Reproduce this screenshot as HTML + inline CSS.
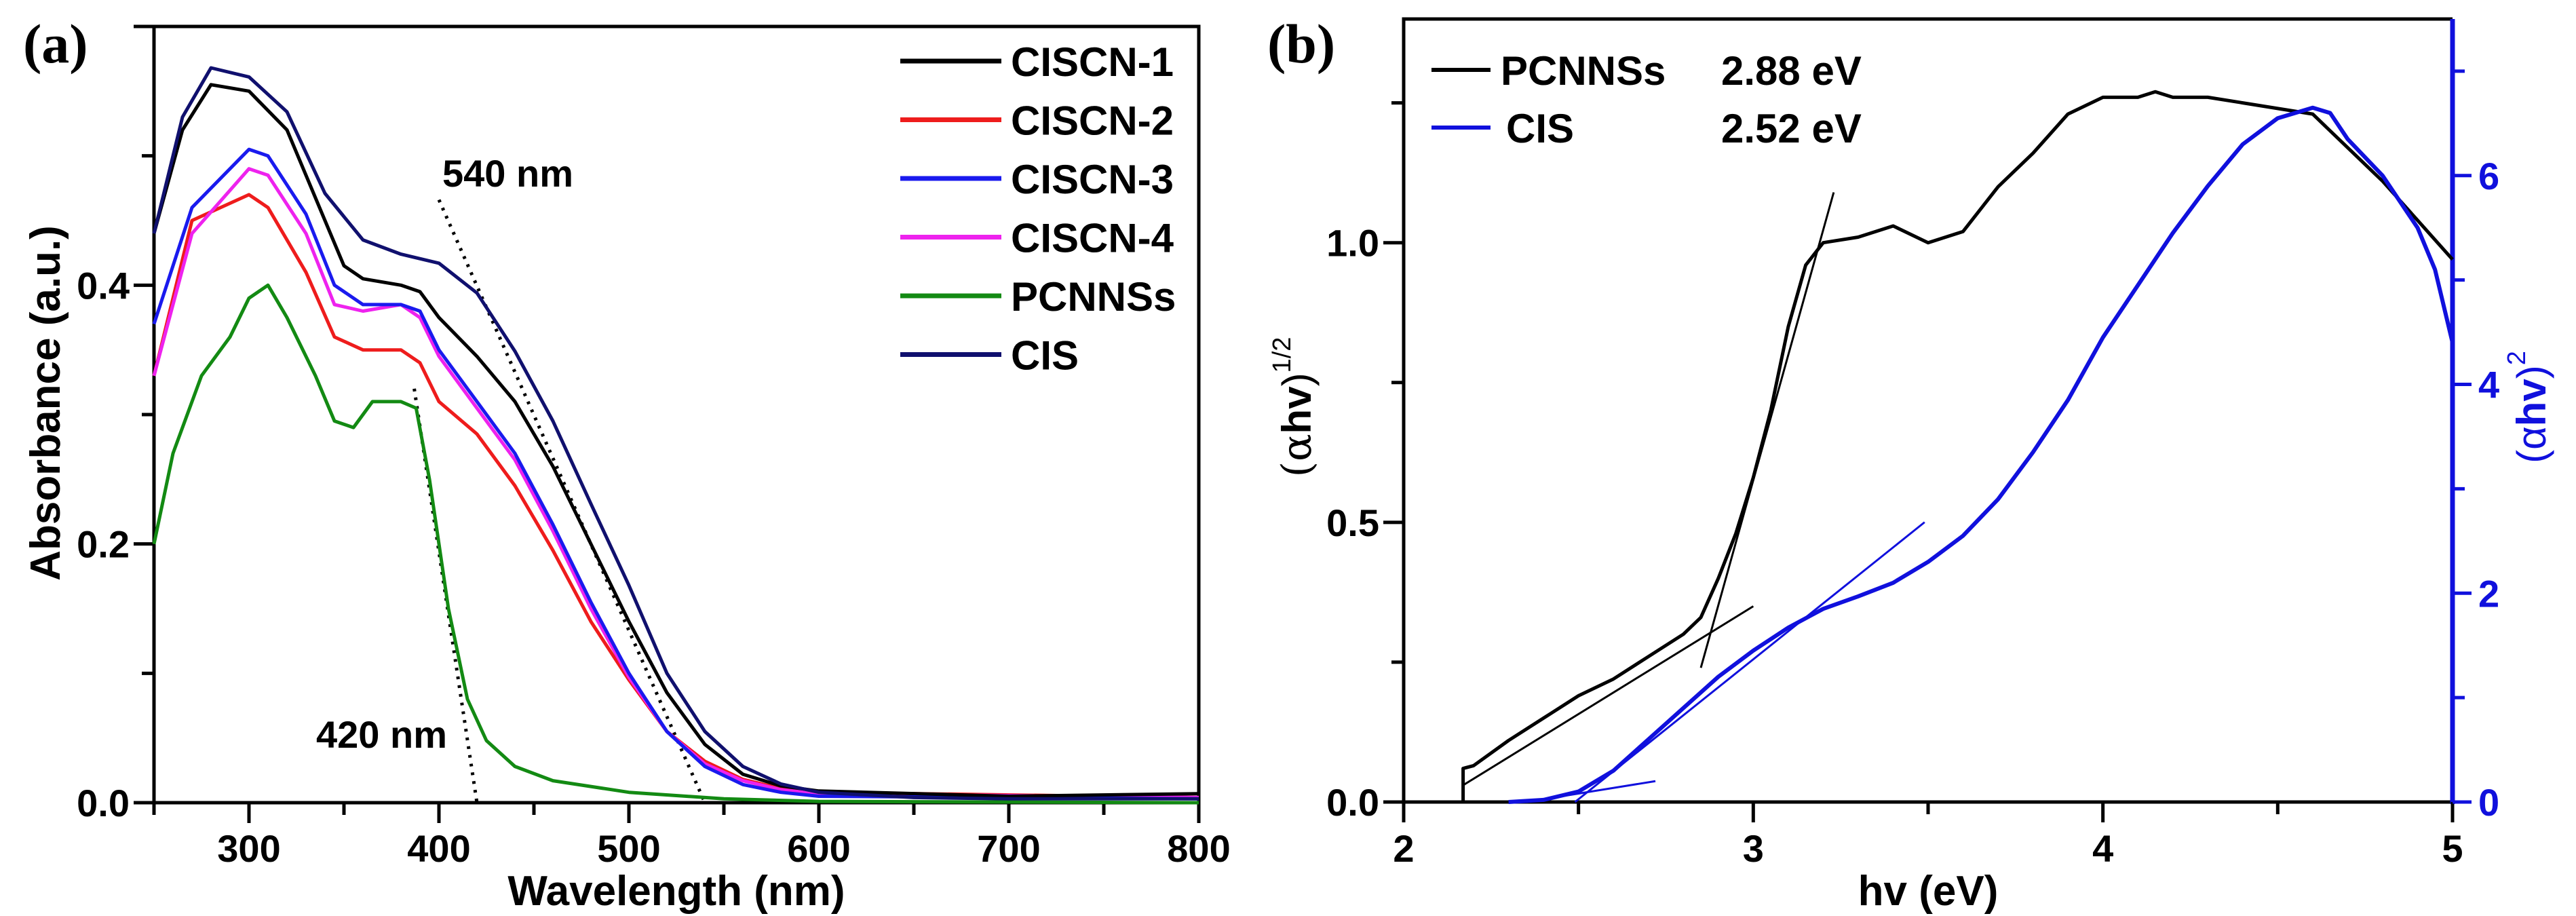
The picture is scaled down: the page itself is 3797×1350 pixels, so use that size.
<!DOCTYPE html>
<html><head><meta charset="utf-8"><style>
html,body{margin:0;padding:0;background:#fff;}
svg{display:block;font-family:"Liberation Sans",sans-serif;font-weight:bold;}
</style></head><body>
<svg id="fig" width="3797" height="1350" viewBox="0 0 3797 1350">
<g id="pa"></g>
<g id="pb"></g>
</svg>
<script>
// Panel (a) data
const aWl_CIS=[250,265,280,300,320,340,360,380,400,420,440,460,480,500,520,540,560,580,600,650,700,750,800];
const aCIS=[0.44,0.53,0.568,0.561,0.534,0.471,0.435,0.424,0.417,0.394,0.349,0.295,0.231,0.168,0.1,0.055,0.028,0.0145,0.008,0.004,0.003,0.003,0.003];
const aWl_1=[250,265,280,300,320,340,350,360,380,390,400,420,440,460,480,500,520,540,560,580,600,700,800];
const aC1=[0.44,0.52,0.555,0.55,0.52,0.45,0.415,0.405,0.4,0.395,0.375,0.345,0.31,0.26,0.2,0.14,0.085,0.045,0.022,0.013,0.009,0.005,0.007];
const aWl_s=[250,270,300,310,330,345,360,380,390,400,420,440,460,480,500,520,540,560,580,600,800];
const aC3=[0.37,0.46,0.505,0.5,0.455,0.4,0.385,0.385,0.38,0.35,0.31,0.27,0.215,0.155,0.1,0.055,0.028,0.014,0.008,0.005,0.003];
const aC4=[0.33,0.44,0.49,0.485,0.44,0.385,0.38,0.385,0.375,0.345,0.305,0.265,0.21,0.15,0.097,0.055,0.03,0.017,0.01,0.007,0.004];
const aC2=[0.33,0.45,0.47,0.46,0.41,0.36,0.35,0.35,0.34,0.31,0.285,0.245,0.195,0.14,0.095,0.055,0.032,0.018,0.011,0.008,0.004];
const aWl_P=[250,260,275,290,300,310,320,335,345,355,365,380,388,395,405,415,425,440,460,500,550,600,800];
const aPC=[0.2,0.27,0.33,0.36,0.39,0.4,0.375,0.33,0.295,0.29,0.31,0.31,0.305,0.25,0.15,0.08,0.048,0.028,0.017,0.008,0.003,0.001,0];
const aXTicks=[300,400,500,600,700,800];
const aYTicks=[0.0,0.2,0.4];
// Panel (b) data
const bEv_P=[2.17,2.17,2.2,2.3,2.4,2.5,2.6,2.7,2.8,2.85,2.9,2.95,3.0,3.05,3.1,3.15,3.2,3.3,3.4,3.5,3.6,3.7,3.8,3.9,4.0,4.1,4.15,4.2,4.3,4.4,4.5,4.6,4.7,4.8,4.9,5.0];
const bPC=[0,0.06,0.065,0.11,0.15,0.19,0.22,0.26,0.3,0.33,0.4,0.48,0.58,0.7,0.85,0.96,1.0,1.01,1.03,1.0,1.02,1.1,1.16,1.23,1.26,1.26,1.27,1.26,1.26,1.25,1.24,1.23,1.17,1.11,1.04,0.97];
const bEv_C=[2.3,2.4,2.5,2.6,2.7,2.8,2.9,3.0,3.1,3.2,3.3,3.4,3.5,3.6,3.7,3.8,3.9,4.0,4.1,4.2,4.3,4.4,4.5,4.6,4.65,4.7,4.8,4.9,4.95,5.0];
const bCIS=[0,0.02,0.1,0.3,0.6,0.9,1.2,1.45,1.67,1.85,1.97,2.1,2.3,2.55,2.9,3.35,3.85,4.45,4.95,5.45,5.9,6.3,6.55,6.65,6.6,6.35,6.0,5.5,5.1,4.4];
const bXTicks=[2,3,4,5];
const bYTicks=[0.0,0.5,1.0];
const bY2Ticks=[0,2,4,6];

const NS="http://www.w3.org/2000/svg";
function mk(parent,tag,attrs,text){const e=document.createElementNS(NS,tag);for(const k in attrs)e.setAttribute(k,attrs[k]);if(text!==undefined)e.textContent=text;parent.appendChild(e);return e;}
function path(xs,ys,fx,fy){return xs.map((x,i)=>(i?'L':'M')+fx(x).toFixed(1)+' '+fy(ys[i]).toFixed(1)).join(' ');}

// ---- Panel a
const pa=document.getElementById('pa');
const aL=227,aR=1767,aT=39,aB=1183;
const ax=v=>aL+(v-250)/550*(aR-aL);
const ay=v=>aB-v/0.6*(aB-aT);
let r=mk(pa,'rect',{x:aL,y:aT,width:aR-aL,height:aB-aT,fill:'none',stroke:'#000','stroke-width':5});

for(let v=250;v<=800;v+=50){const major=v%100===0;let t=mk(pa,'line',{x1:ax(v),x2:ax(v),y1:aB,y2:aB+(major?30:18),stroke:'#000','stroke-width':5});}
for(let v=0;v<=0.6001;v+=0.1){const major=Math.round(v*10)%2===0;let t=mk(pa,'line',{x1:aL,x2:aL-(major?30:18),y1:ay(v),y2:ay(v),stroke:'#000','stroke-width':5});}
aXTicks.forEach(v=>{let t=mk(pa,'text',{x:ax(v),y:1270,'font-size':56,'text-anchor':'middle'},String(v));});
aYTicks.forEach(v=>{let t=mk(pa,'text',{x:aL-36,y:ay(v)+20,'font-size':56,'text-anchor':'end'},v.toFixed(1));});
let tt=mk(pa,'text',{x:(aL+aR)/2,y:1334,'font-size':62,'text-anchor':'middle'},'Wavelength (nm)');
tt=mk(pa,'text',{x:0,y:0,'font-size':62,'text-anchor':'middle',transform:'translate(88,594) rotate(-90)'},'Absorbance (a.u.)');
tt=mk(pa,'text',{x:34,y:92,'font-size':82,'font-family':'Liberation Serif, serif'},'(a)');
// dotted tangents
let d=mk(pa,'line',{x1:ax(400),y1:ay(0.466),x2:ax(540),y2:ay(0),stroke:'#000','stroke-width':5,'stroke-dasharray':'4 9'});
d=mk(pa,'line',{x1:ax(387),y1:ay(0.32),x2:ax(420),y2:ay(0),stroke:'#000','stroke-width':5,'stroke-dasharray':'4 9'});
const aSeries=[
 ['series-pcnnss',aWl_P,aPC,'#138a13'],
 ['series-ciscn-2',aWl_s,aC2,'#ee1c1c'],
 ['series-ciscn-4',aWl_s,aC4,'#ee22ee'],
 ['series-ciscn-3',aWl_s,aC3,'#1a1aee'],
 ['series-ciscn-1',aWl_1,aC1,'#000000'],
 ['series-cis-a',aWl_CIS,aCIS,'#10106e']];
aSeries.forEach(s=>{let p=mk(pa,'path',{d:path(s[1],s[2],ax,ay),fill:'none',stroke:s[3],'stroke-width':5,'stroke-linejoin':'round'});});
let lab=mk(pa,'text',{x:652,y:275,'font-size':56},'540 nm');
lab=mk(pa,'text',{x:466,y:1102,'font-size':56},'420 nm');
const aLeg=[['CISCN-1','#000'],['CISCN-2','#ee1c1c'],['CISCN-3','#1a1aee'],['CISCN-4','#ee22ee'],['PCNNSs','#138a13'],['CIS','#10106e']];
aLeg.forEach((l,i)=>{const y=90+i*86.5;let g=mk(pa,'g',{});
 mk(g,'line',{x1:1327,x2:1476,y1:y,y2:y,stroke:l[1],'stroke-width':7});
 mk(g,'text',{x:1490,y:y+22,'font-size':60},l[0]);});

// ---- Panel b
const pb=document.getElementById('pb');
const bL=2069,bR=3615,bT=28,bB=1182;
const bx=v=>bL+(v-2)/3*(bR-bL);
const by=v=>bB-v/1.4*(bB-bT);
const by2=v=>bB-v/7.5*(bB-bT);
r=mk(pb,'path',{d:`M${bR} ${bT} L${bL} ${bT} L${bL} ${bB} L${bR} ${bB}`,fill:'none',stroke:'#000','stroke-width':5});

r=mk(pb,'line',{x1:bR,x2:bR,y1:bT,y2:bB+3,stroke:'#1010dd','stroke-width':7});
for(let v=2;v<=5.001;v+=0.5){const major=Math.abs(v-Math.round(v))<1e-6;let t=mk(pb,'line',{x1:bx(v),x2:bx(v),y1:bB,y2:bB+(major?30:18),stroke:'#000','stroke-width':5});}
for(let k=0;k<=5;k++){const v=k*0.25;const major=k%2===0;let t=mk(pb,'line',{x1:bL,x2:bL-(major?30:18),y1:by(v),y2:by(v),stroke:'#000','stroke-width':5});}
for(let v=0;v<=7;v++){const major=v%2===0;let t=mk(pb,'line',{x1:bR,x2:bR+(major?28:18),y1:by2(v),y2:by2(v),stroke:'#1010dd','stroke-width':5});}
bXTicks.forEach(v=>{let t=mk(pb,'text',{x:bx(v),y:1270,'font-size':56,'text-anchor':'middle'},String(v));});
bYTicks.forEach(v=>{let t=mk(pb,'text',{x:bL-36,y:by(v)+20,'font-size':56,'text-anchor':'end'},v.toFixed(1));});
bY2Ticks.forEach(v=>{let t=mk(pb,'text',{x:bR+38,y:by2(v)+20,'font-size':56,fill:'#1010dd'},String(v));});
tt=mk(pb,'text',{x:(bL+bR)/2,y:1334,'font-size':62,'text-anchor':'middle'},'hv (eV)');
tt=mk(pb,'text',{x:0,y:0,'font-size':60,'text-anchor':'middle',transform:'translate(1932,600) rotate(-90)'});
mk(tt,'tspan',{'font-family':'DejaVu Serif, serif','font-weight':'normal'},'(α');mk(tt,'tspan',{},'hv');mk(tt,'tspan',{'font-weight':'normal'},')');mk(tt,'tspan',{'font-size':38,dy:-30,'font-weight':'normal'},'1/2');
tt=mk(pb,'text',{x:0,y:0,'font-size':60,'text-anchor':'middle',fill:'#1010dd',transform:'translate(3752,600) rotate(-90)'});
mk(tt,'tspan',{'font-weight':'normal'},'(α');mk(tt,'tspan',{},'hv');mk(tt,'tspan',{'font-weight':'normal'},')');mk(tt,'tspan',{'font-size':38,dy:-30,'font-weight':'normal'},'2');
tt=mk(pb,'text',{x:1868,y:92,'font-size':82,'font-family':'Liberation Serif, serif'},'(b)');
let p=mk(pb,'path',{d:path(bEv_P,bPC,bx,by),fill:'none',stroke:'#000','stroke-width':5,'stroke-linejoin':'round'});
p=mk(pb,'path',{d:path(bEv_C,bCIS,bx,by2),fill:'none',stroke:'#1010dd','stroke-width':6,'stroke-linejoin':'round'});
// tangents
d=mk(pb,'line',{x1:bx(2.17),y1:by(0.03),x2:bx(3.0),y2:by(0.35),stroke:'#000','stroke-width':3});
d=mk(pb,'line',{x1:bx(2.85),y1:by(0.24),x2:bx(3.23),y2:by(1.09),stroke:'#000','stroke-width':3});
d=mk(pb,'line',{x1:bx(2.49),y1:by2(0),x2:bx(3.49),y2:by2(2.68),stroke:'#1010dd','stroke-width':3});
d=mk(pb,'line',{x1:bx(2.35),y1:by2(0),x2:bx(2.72),y2:by2(0.2),stroke:'#1010dd','stroke-width':3});
const bLeg=[['PCNNSs','2.88 eV','#000',103],['CIS','2.52 eV','#1010dd',188]];
bLeg.forEach(l=>{let g=mk(pb,'g',{});
 mk(g,'line',{x1:2110,x2:2197,y1:l[3],y2:l[3],stroke:l[2],'stroke-width':6});
 mk(g,'text',{x:l[0]==='CIS'?2220:2212,y:l[3]+22,'font-size':60},l[0]);
 mk(g,'text',{x:2537,y:l[3]+22,'font-size':60},l[1]);});
</script>
</body></html>
